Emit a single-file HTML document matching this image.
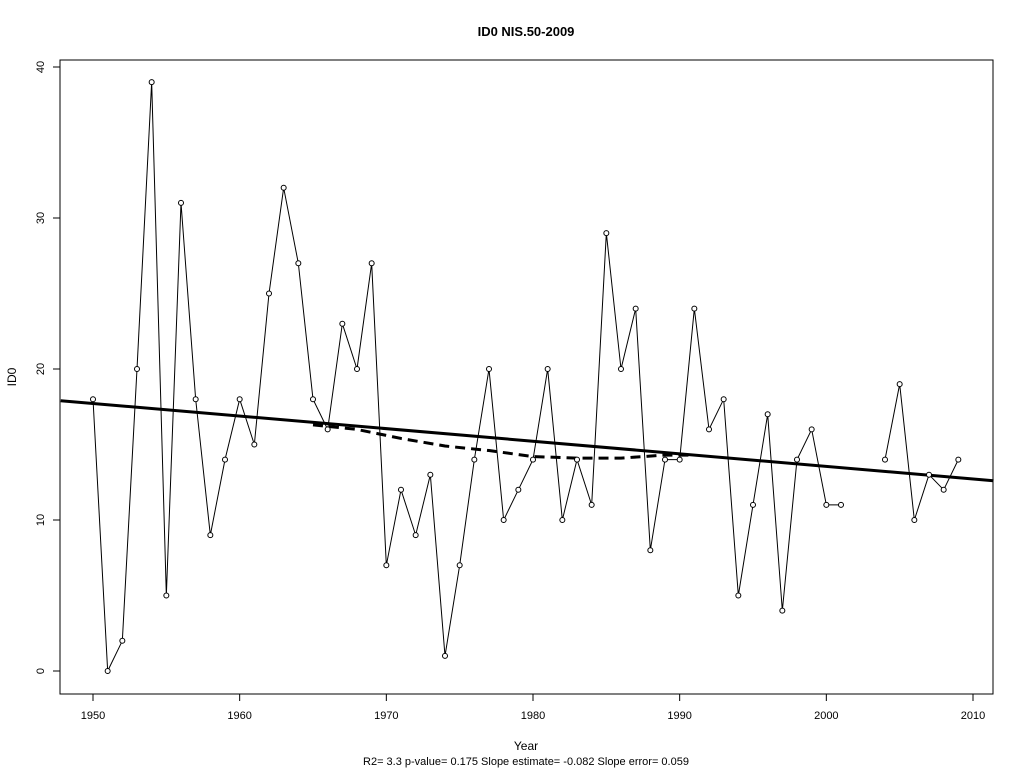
<!DOCTYPE html>
<html><head><meta charset="utf-8"><style>
body{margin:0;background:#fff;}
svg text{font-family:"Liberation Sans",Arial,sans-serif;}
</style></head><body>
<svg id="chart" width="1024" height="768" xmlns="http://www.w3.org/2000/svg">
<text x="526" y="36" text-anchor="middle" font-size="13" font-weight="bold">ID0    NIS.50-2009</text>
<rect x="60" y="60" width="933" height="634" fill="none" stroke="#000" stroke-width="1"/>
<g id="xticks"></g>
<g id="yticks"></g>
<g id="series"></g>
<text x="526" y="750" text-anchor="middle" font-size="12">Year</text>
<text x="16" y="377" text-anchor="middle" font-size="12" transform="rotate(-90 16 377)">ID0</text>
<text x="526" y="765" text-anchor="middle" font-size="11">R2= 3.3  p-value= 0.175  Slope estimate= -0.082  Slope error= 0.059</text>
</svg>
<script>
const years=[1950,1951,1952,1953,1954,1955,1956,1957,1958,1959,1960,1961,1962,1963,1964,1965,1966,1967,1968,1969,1970,1971,1972,1973,1974,1975,1976,1977,1978,1979,1980,1981,1982,1983,1984,1985,1986,1987,1988,1989,1990,1991,1992,1993,1994,1995,1996,1997,1998,1999,2000,2001,2004,2005,2006,2007,2008,2009];
const values=[18,0,2,20,39,5,31,18,9,14,18,15,25,32,27,18,16,23,20,27,7,12,9,13,1,7,14,20,10,12,14,20,10,14,11,29,20,24,8,14,14,24,16,18,5,11,17,4,14,16,11,11,14,19,10,13,12,14];
const trendYears=[1947.8,2011.4];
const trendValues=[17.9,12.6];
const smoothYears=[1965,1968,1971,1974,1977,1980,1983,1986,1989,1991];
const smoothValues=[16.3,16.0,15.4,14.9,14.6,14.2,14.1,14.1,14.3,14.3];
const xTicks=[1950,1960,1970,1980,1990,2000,2010];
const yTicks=[0,10,20,30,40];
const NS="http://www.w3.org/2000/svg";
const X=v=>93+(v-1950)*(880/60);
const Y=v=>671-v*(604/40);
function mk(t,parent,attrs){const e=document.createElementNS(NS,t);for(const k in attrs)e.setAttribute(k,attrs[k]);parent.appendChild(e);return e;}
const xg=document.getElementById('xticks'),yg=document.getElementById('yticks'),sg=document.getElementById('series');
xTicks.forEach(t=>{
 const l=mk('line',xg,{x1:X(t),x2:X(t),y1:694,y2:701,stroke:'#000'});
 
 
 const tx=mk('text',xg,{x:X(t),y:719,'text-anchor':'middle','font-size':'11'});tx.textContent=t;
 
 
});
yTicks.forEach(t=>{
 const l=mk('line',yg,{x1:53,x2:60,y1:Y(t),y2:Y(t),stroke:'#000'});
 
 
 const tx=mk('text',yg,{x:44,y:Y(t),'text-anchor':'middle','font-size':'11',transform:`rotate(-90 44 ${Y(t)})`});tx.textContent=t;
 
 
});
let d='';
years.forEach((y,i)=>{d+=(i===0||years[i]-years[i-1]>1?'M':'L')+X(y)+' '+Y(values[i])+' ';});
const ln=mk('path',sg,{d:d,fill:'none',stroke:'#000','stroke-width':1});


const tr=mk('line',sg,{x1:X(trendYears[0]),y1:Y(trendValues[0]),x2:X(trendYears[1]),y2:Y(trendValues[1]),stroke:'#000','stroke-width':3});


const sd=smoothYears.map((y,i)=>(i?'L':'M')+X(y)+' '+Y(smoothValues[i])).join(' ');
const sm=mk('path',sg,{d:sd,fill:'none',stroke:'#000','stroke-width':3,'stroke-dasharray':'10 6'});


years.forEach((y,i)=>{
 const c=mk('circle',sg,{cx:X(y),cy:Y(values[i]),r:2.5,fill:'#fff',stroke:'#000','stroke-width':1});
 
 
});
</script>
</body></html>
